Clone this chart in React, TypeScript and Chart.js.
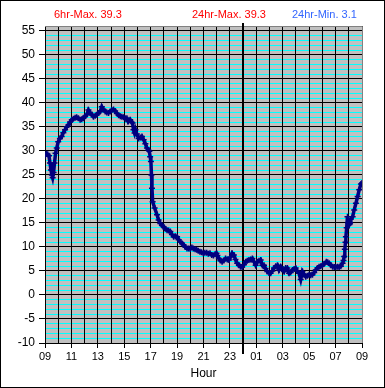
import React, { useEffect, useRef } from "react";
import { Chart, registerables } from "chart.js";

Chart.register(...registerables);

// Hours elapsed since 09:00 (0 .. 24)
const sampleHours = [
  0.0, 0.1, 0.2, 0.3, 0.38, 0.45, 0.52, 0.58, 0.65, 0.72, 0.8, 0.89, 1.0, 1.13, 1.26, 1.39, 1.52, 1.65, 1.77, 1.9,
  2.03, 2.15, 2.28, 2.4, 2.53, 2.66, 2.78, 2.91, 3.04, 3.16, 3.29, 3.42, 3.55, 3.67, 3.8, 3.92, 4.05, 4.18, 4.3, 4.43,
  4.56, 4.68, 4.81, 4.94, 5.06, 5.19, 5.31, 5.44, 5.57, 5.7, 5.82, 5.95, 6.07, 6.2, 6.3, 6.45, 6.55, 6.63, 6.7, 6.78,
  6.85, 6.95, 7.09, 7.22, 7.34, 7.47, 7.6, 7.72, 7.82, 7.9, 7.96, 8.02, 8.06, 8.1, 8.15, 8.3, 8.48, 8.6, 8.73, 8.85,
  8.98, 9.11, 9.24, 9.36, 9.49, 9.61, 9.74, 9.87, 10.0, 10.12, 10.25, 10.38, 10.5, 10.62, 10.75, 10.88, 11.0, 11.12, 11.23, 11.36,
  11.48, 11.6, 11.73, 11.85, 11.98, 12.1, 12.24, 12.36, 12.49, 12.62, 12.75, 12.88, 12.98, 13.05, 13.16, 13.28, 13.41, 13.54, 13.67, 13.8,
  13.92, 14.05, 14.17, 14.3, 14.42, 14.55, 14.68, 14.8, 14.93, 15.06, 15.19, 15.31, 15.44, 15.57, 15.7, 15.82, 15.95, 16.07, 16.2, 16.33,
  16.45, 16.58, 16.7, 16.83, 16.96, 17.08, 17.21, 17.34, 17.47, 17.6, 17.72, 17.85, 17.98, 18.1, 18.22, 18.35, 18.48, 18.6, 18.73, 18.86,
  18.98, 19.1, 19.23, 19.36, 19.49, 19.62, 19.74, 19.87, 19.99, 20.12, 20.25, 20.38, 20.5, 20.62, 20.75, 20.88, 21.01, 21.15, 21.3, 21.4,
  21.51, 21.64, 21.77, 21.9, 22.02, 22.15, 22.27, 22.4, 22.53, 22.6, 22.65, 22.7, 22.75, 22.78, 22.84, 22.9, 22.96, 23.03, 23.1, 23.16,
  23.29, 23.41, 23.54, 23.67, 23.79, 23.92, 24.0,
];

// Temperature readings (°C)
const temperatures = [
  29.0, 29.4, 29.3, 29.0, 27.5, 26.0, 25.0, 24.4, 25.5, 27.5, 29.5, 30.6, 31.9, 32.6, 33.0, 33.8, 34.4, 35.0, 35.4, 36.0,
  36.5, 36.7, 36.9, 37.0, 36.8, 36.5, 36.6, 36.8, 37.2, 37.5, 38.5, 37.9, 37.6, 37.1, 37.3, 37.5, 37.9, 38.2, 39.2, 38.6,
  38.2, 38.0, 37.9, 38.2, 38.5, 38.6, 38.3, 37.8, 37.4, 37.2, 37.1, 37.0, 36.8, 36.8, 36.1, 36.5, 36.0, 35.8, 34.4, 33.7,
  34.4, 33.5, 32.6, 32.8, 33.0, 32.3, 31.5, 30.6, 30.2, 29.9, 28.8, 27.8, 25.0, 22.2, 19.4, 18.1, 16.7, 15.6, 14.9, 14.5,
  14.2, 13.8, 13.5, 13.4, 13.2, 12.6, 12.1, 12.2, 12.1, 11.5, 11.1, 10.7, 10.4, 10.0, 9.7, 9.7, 9.6, 9.9, 9.7, 9.5,
  9.4, 9.2, 9.0, 8.9, 8.7, 8.8, 8.8, 8.6, 8.7, 8.3, 8.2, 8.5, 8.7, 8.2, 7.6, 7.2, 6.9, 7.2, 7.6, 7.4,
  7.3, 7.9, 8.7, 8.3, 7.4, 6.6, 6.2, 5.9, 5.8, 6.3, 6.9, 7.1, 7.3, 7.4, 7.6, 6.9, 6.2, 6.9, 7.1, 7.3,
  6.2, 6.2, 5.5, 4.9, 4.6, 4.5, 5.0, 5.6, 6.0, 6.2, 5.2, 5.9, 5.4, 4.9, 5.6, 5.6, 4.5, 4.7, 5.2, 5.4,
  5.6, 5.0, 4.5, 3.2, 4.9, 4.3, 3.8, 4.0, 4.2, 4.1, 4.2, 4.7, 5.2, 5.6, 5.9, 6.0, 6.2, 6.5, 6.9, 6.8,
  6.6, 6.2, 5.9, 5.8, 5.8, 5.9, 5.8, 6.0, 6.6, 7.2, 8.0, 9.5, 11.0, 12.1, 14.0, 16.3, 15.0, 14.6, 15.0, 15.8,
  16.3, 17.7, 19.1, 20.5, 21.9, 23.1, 23.3,
];

const startHour = 9;
const yMin = -10;
const yMax = 56;
const yLabelStep = 5;
const xLabelStep = 2;
const summaryLabels = ["6hr-Max. 39.3", "24hr-Max. 39.3", "24hr-Min. 3.1"];
const axisTitle = "Hour";

const FONT = "'Liberation Sans', Arial, sans-serif";

export default function App() {
  const ref = useRef<HTMLCanvasElement | null>(null);

  useEffect(() => {
    const canvas = ref.current;
    if (!canvas) return;

    const framePlugin = {
      id: "frame",
      beforeDraw(chart: any) {
        const { ctx, chartArea: a, width, height } = chart;
        ctx.save();
        ctx.fillStyle = "#ffffff";
        ctx.fillRect(0, 0, width, height);
        ctx.fillStyle = "#c0c0c0";
        ctx.fillRect(a.left, a.top, a.right - a.left, a.bottom - a.top);
        ctx.strokeStyle = "#000000";
        ctx.lineWidth = 1;
        ctx.strokeRect(0.5, 0.5, width - 1, height - 1);
        ctx.font = `11px ${FONT}`;
        ctx.textBaseline = "middle";
        ctx.textAlign = "left";
        ctx.fillStyle = "#ff0000";
        ctx.fillText(summaryLabels[0], 54, 15);
        ctx.fillText(summaryLabels[1], 192, 15);
        ctx.fillStyle = "#3366ff";
        ctx.fillText(summaryLabels[2], 292, 15);
        ctx.restore();
      },
      beforeDatasetsDraw(chart: any) {
        const { ctx, chartArea: a } = chart;
        ctx.save();
        ctx.strokeStyle = "#808080";
        ctx.lineWidth = 1;
        ctx.beginPath();
        ctx.moveTo(a.left, Math.round(a.top) + 0.5);
        ctx.lineTo(Math.round(a.right) + 0.5, Math.round(a.top) + 0.5);
        ctx.lineTo(Math.round(a.right) + 0.5, a.bottom);
        ctx.stroke();
        const mx = Math.round(chart.scales.x.getPixelForValue(24 - startHour));
        ctx.strokeStyle = "#000000";
        ctx.lineWidth = 2;
        ctx.beginPath();
        ctx.moveTo(mx, a.top - 3);
        ctx.lineTo(mx, a.bottom + 11);
        ctx.stroke();
        ctx.restore();
      },
    };

    const points = sampleHours.map((h, i) => ({ x: h, y: temperatures[i] }));

    const chart = new Chart(canvas, {
      type: "line",
      data: {
        datasets: [
          {
            data: points,
            borderColor: "#000080",
            backgroundColor: "#000080",
            borderWidth: 3.5,
            pointStyle: "cross",
            pointRadius: 3,
            pointBorderWidth: 1.5,
            pointBorderColor: "#000080",
            tension: 0,
            fill: false,
          },
        ],
      },
      options: {
        animation: false,
        responsive: false,
        events: [],
        layout: { padding: { top: 26, right: 23, left: 0, bottom: 0 } },
        plugins: {
          legend: { display: false },
          tooltip: { enabled: false },
          title: { display: false },
        },
        scales: {
          x: {
            type: "linear",
            min: 0,
            max: 24,
            afterFit: (scale: any) => {
              scale.height = 45;
            },
            ticks: {
              stepSize: 1,
              autoSkip: false,
              maxRotation: 0,
              padding: 2,
              color: "#000000",
              font: { family: FONT, size: 11 },
              callback: (v: any) => {
                const n = Math.round(Number(v));
                return n % xLabelStep === 0 ? String((startHour + n) % 24).padStart(2, "0") : "";
              },
            },
            grid: {
              z: -1,
              color: "#000000",
              lineWidth: 1,
              tickLength: 5,
              tickColor: (ctx: any) =>
                ctx.tick && Math.round(ctx.tick.value) % xLabelStep === 0 ? "#000000" : "rgba(0,0,0,0)",
            },
            border: { display: true, color: "#000000", width: 1 },
            title: {
              display: true,
              text: axisTitle,
              color: "#000000",
              font: { family: FONT, size: 12 },
              padding: { top: 0, bottom: 7 },
            },
          },
          y: {
            type: "linear",
            min: yMin,
            max: yMax,
            afterFit: (scale: any) => {
              scale.width = 45;
            },
            ticks: {
              stepSize: 1,
              autoSkip: false,
              padding: 4,
              color: "#000000",
              font: { family: FONT, size: 12 },
              callback: (v: any) => {
                const n = Math.round(Number(v));
                return n % yLabelStep === 0 ? String(n) : "";
              },
            },
            grid: {
              z: -2,
              lineWidth: 1,
              tickLength: 6,
              color: (ctx: any) =>
                ctx.tick && Math.round(ctx.tick.value) % yLabelStep === 0 ? "#000000" : "#00ffff",
              tickColor: (ctx: any) =>
                ctx.tick && Math.round(ctx.tick.value) % yLabelStep === 0 ? "#000000" : "rgba(0,0,0,0)",
            },
            border: { display: true, color: "#000000", width: 1 },
          },
        },
      },
      plugins: [framePlugin],
    } as any);

    return () => {
      chart.destroy();
    };
  }, []);

  return (
    <div style={{ position: "absolute", left: 0, top: 0, width: 385, height: 388 }}>
      <canvas ref={ref} width={385} height={388} style={{ display: "block" }} />
    </div>
  );
}
